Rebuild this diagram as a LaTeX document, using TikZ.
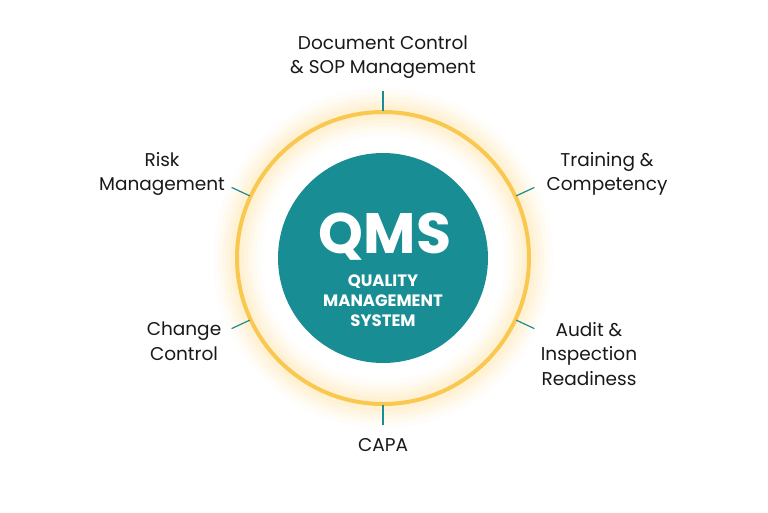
\documentclass[tikz,border=0pt]{standalone}
\usepackage{fontspec}
\setmainfont{Poppins}
\usetikzlibrary{calc}
\definecolor{teal1}{RGB}{24,141,147}
\definecolor{ringc}{RGB}{250,200,80}
\definecolor{glowc}{RGB}{255,214,110}
\definecolor{txt}{RGB}{25,25,25}
\begin{document}
\begin{tikzpicture}[x=1pt,y=-1pt,
  lbl/.style={font=\fontsize{18.5}{24.5}\selectfont, text=txt, align=center, inner sep=0pt},
  tickline/.style={draw=teal1, line width=1.2pt},
  corecirc/.style={circle, fill=teal1, minimum size=210pt, inner sep=0pt}]
\useasboundingbox (0,0) rectangle (768,512);
\fill[white] (0,0) rectangle (768,512);
\coordinate (c) at (383,258);
% glow
\foreach \w/\o in {48/0.04,38/0.05,30/0.06,22/0.08,14/0.1}{
  \draw[glowc, line width=\w pt, opacity=\o] (c) circle (146);
}
\draw[ringc, line width=4pt] (c) circle (146);
\node[corecirc] (core) at (c) {};
\node[text=white, font=\bfseries\fontsize{57}{57}\selectfont, inner sep=0pt] (qms) at (385,237) {QMS};
\node[text=white, font=\bfseries\fontsize{16.5}{20}\selectfont, align=center, inner sep=0pt] (sub) at (383,301) {QUALITY\\MANAGEMENT\\SYSTEM};
% ticks
\foreach \n/\a in {top/-90,ul/-155,ur/-25,ll/155,lr/25,bot/90}{
  \coordinate (\n a) at ($(c)+(\a:147)$);
  \coordinate (\n b) at ($(c)+(\a:167)$);
}
\draw[tickline] (topa) -- (topb);
\draw[tickline] (ula) -- (ulb);
\draw[tickline] (ura) -- (urb);
\draw[tickline] (lla) -- (llb);
\draw[tickline] (lra) -- (lrb);
\draw[tickline] (bota) -- (botb);
% labels
\node[lbl] (doc) at (383,57) {Document Control\\\& SOP Management};
\node[lbl] (risk) at (162,174) {Risk\\Management};
\node[lbl] (train) at (607,174) {Training \&\\Competency};
\node[lbl] (change) at (184,341) {Change\\Control};
\node[lbl] (audit) at (589,354) {Audit \&\\Inspection\\Readiness};
\node[lbl] (capa) at (383,445) {CAPA};
\end{tikzpicture}
\end{document}
